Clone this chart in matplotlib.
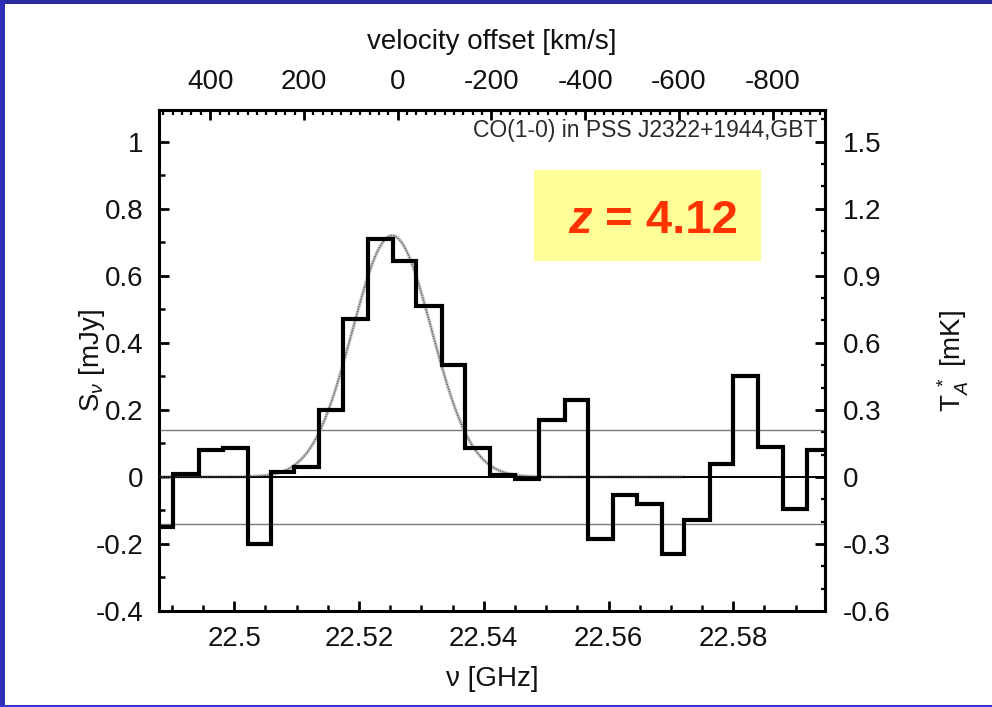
import matplotlib
matplotlib.use('Agg')
import matplotlib.pyplot as plt
from matplotlib.patches import Rectangle
from matplotlib.ticker import MultipleLocator, FixedLocator, FuncFormatter
import numpy as np

plt.rcParams['font.family'] = ['Liberation Sans', 'DejaVu Sans']
plt.rcParams['axes.unicode_minus'] = False
plt.rcParams['mathtext.fontset'] = 'custom'
plt.rcParams['mathtext.rm'] = 'Liberation Sans'
plt.rcParams['mathtext.it'] = 'Liberation Sans:italic'
plt.rcParams['mathtext.bf'] = 'Liberation Sans:bold'

# channel edges [GHz] and flux density per channel [mJy]
chan_edges = [22.48621, 22.49012, 22.49439, 22.49824, 22.50224, 22.50584,
              22.50962, 22.51363, 22.51747, 22.52148, 22.52539, 22.52913,
              22.53325, 22.53699, 22.54099, 22.54500, 22.54890, 22.55302,
              22.55675, 22.56076, 22.56451, 22.56862, 22.57214, 22.57626,
              22.58000, 22.58401, 22.58802, 22.59186, 22.59577]
flux = [-0.15, 0.01, 0.08, 0.085, -0.20, 0.015, 0.03, 0.20, 0.47, 0.71,
        0.645, 0.51, 0.335, 0.085, 0.007, -0.005, 0.17, 0.23, -0.185, -0.055,
        -0.08, -0.23, -0.13, 0.04, 0.30, 0.09, -0.095, 0.08]

# gaussian fit to the line
fit_peak = 0.72
fit_center = 22.5253
fit_fwhm = 0.0150
fit_start, fit_stop = 22.488, 22.572

rms_level = 0.14          # +/- 1 sigma lines
nu_zero = 22.5262         # GHz at zero velocity offset
c_kms = 299792.458
mjy_to_mk = 1.5           # S_nu [mJy] -> T_A* [mK]

freq_ticks = [22.5, 22.52, 22.54, 22.56, 22.58]
vel_ticks = [400, 200, 0, -200, -400, -600, -800]
ta_ticks = [-0.6, -0.3, 0, 0.3, 0.6, 0.9, 1.2, 1.5]

txt_color = '#111111'
fs = 20

fig = plt.figure(figsize=(9.92, 7.07), dpi=100)
ax = fig.add_axes([159 / 992, 1 - 611 / 707, 666 / 992, 501 / 707])

# reference lines
ax.axhline(rms_level, color='#7a7a7a', lw=1.0, zorder=1)
ax.axhline(-rms_level, color='#7a7a7a', lw=1.0, zorder=1)

# gaussian fit
nu_fit = np.linspace(fit_start, fit_stop, 500)
sigma = fit_fwhm / (2 * np.sqrt(2 * np.log(2)))
gauss = fit_peak * np.exp(-0.5 * ((nu_fit - fit_center) / sigma) ** 2)
ax.plot(nu_fit, gauss, color='#c6c6c6', lw=2.4, zorder=2)
ax.axhline(0, color='black', lw=1.4, zorder=3)
ax.plot(nu_fit, gauss, color='#505050', lw=0.9, ls=(0, (1, 1)), zorder=3)

# spectrum
ax.stairs(flux, chan_edges, baseline=None, color='black', lw=3, zorder=4)

ax.set_xlim(22.48793, 22.59470)
ax.set_ylim(-0.4, 1.0946)

ax.xaxis.set_major_locator(FixedLocator(freq_ticks))
ax.xaxis.set_minor_locator(MultipleLocator(0.005))
ax.xaxis.set_major_formatter(FuncFormatter(lambda v, p: f'{round(v, 3):g}'))
ax.yaxis.set_major_locator(MultipleLocator(0.2))
ax.yaxis.set_minor_locator(MultipleLocator(0.1))
ax.yaxis.set_major_formatter(FuncFormatter(lambda v, p: f'{round(v, 2) + 0.0:g}'))

for sp in ax.spines.values():
    sp.set_linewidth(2.2)

ax.tick_params(which='both', direction='in', top=False, right=False,
               labelsize=fs, labelcolor=txt_color, pad=11)
ax.tick_params(which='major', length=7.5, width=2)
ax.tick_params(which='minor', length=4.5, width=1.8)

ax.set_xlabel('ν [GHz]', fontsize=fs, color=txt_color, labelpad=10)
ax.set_ylabel(r'S$_{\nu}$ [mJy]', fontsize=fs, color=txt_color)
ax.yaxis.set_label_coords(-0.078, 0.5)

# top axis: velocity offset
secx = ax.secondary_xaxis(
    'top',
    functions=(lambda nu: c_kms * (nu_zero - nu) / nu_zero,
               lambda v: nu_zero * (1 - v / c_kms)))
secx.set_xticks(vel_ticks)
secx.xaxis.set_major_formatter(FuncFormatter(lambda v, p: f'{v:.0f}'))
secx.xaxis.set_minor_locator(MultipleLocator(20))
secx.tick_params(which='both', direction='in', labelsize=fs,
                 labelcolor=txt_color, pad=11)
secx.tick_params(which='major', length=7, width=2)
secx.tick_params(which='minor', length=3.5, width=1.6)
secx.spines['top'].set_linewidth(2.2)
secx.set_xlabel('velocity offset [km/s]', fontsize=fs, color=txt_color,
                labelpad=14)

# right axis: antenna temperature
secy = ax.secondary_yaxis(
    'right',
    functions=(lambda s: s * mjy_to_mk, lambda t: t / mjy_to_mk))
secy.set_yticks(ta_ticks)
secy.yaxis.set_major_formatter(FuncFormatter(lambda v, p: f'{round(v, 2) + 0.0:g}'))
secy.yaxis.set_minor_locator(MultipleLocator(0.1))
secy.tick_params(which='both', direction='in', labelsize=fs,
                 labelcolor=txt_color, pad=13)
secy.tick_params(which='major', length=7, width=2)
secy.tick_params(which='minor', length=3, width=1.6)
secy.spines['right'].set_linewidth(2.2)
secy.set_ylabel(r'T$_A^{\ *}$ [mK]', fontsize=fs, color=txt_color, labelpad=32)

# source label
ax.text(0.988, 0.960, 'CO(1-0) in PSS J2322+1944,GBT', transform=ax.transAxes,
        ha='right', va='center', fontsize=16.5, color='#2a2a2a')

# redshift box
ax.add_patch(Rectangle((0.563, 0.6986), 0.341, 0.1814, transform=ax.transAxes,
                       facecolor='#ffff99', edgecolor='none', zorder=5))
ax.text(0.614, 0.754, 'z', transform=ax.transAxes, ha='left', va='baseline',
        fontsize=34, fontweight='bold', fontstyle='italic', color='#ff3300', zorder=6)
ax.text(0.670, 0.754, '= 4.12', transform=ax.transAxes, ha='left', va='baseline',
        fontsize=34, fontweight='bold', color='#ff3300', zorder=6)

# slide border
fig.add_artist(Rectangle((0, 1 - 4 / 707), 1, 4 / 707, transform=fig.transFigure,
                         facecolor='#2b2b9e', edgecolor='none'))
fig.add_artist(Rectangle((0, 0), 5 / 992, 1, transform=fig.transFigure,
                         facecolor='#2e2eb8', edgecolor='none'))
fig.add_artist(Rectangle((0, 0), 1, 2 / 707, transform=fig.transFigure,
                         facecolor='#3535d0', edgecolor='none'))

fig.savefig('out.png', dpi=100, facecolor='white')
